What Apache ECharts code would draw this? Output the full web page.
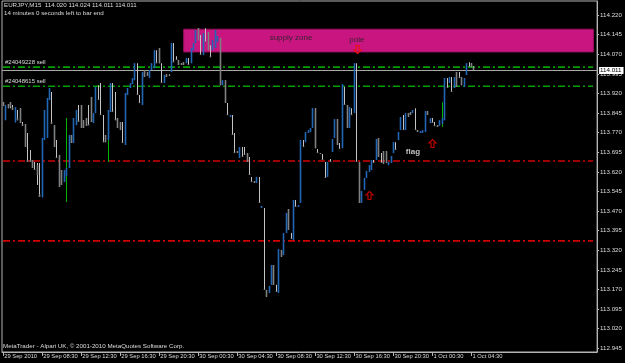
<!DOCTYPE html>
<html><head><meta charset="utf-8">
<script src="https://cdn.jsdelivr.net/npm/echarts@6/dist/echarts.min.js"></script>
<style>html,body{margin:0;padding:0;background:#000}#c{width:625px;height:363px}</style>
</head><body><div id="c"></div>
<script>
const titleLine1 = 'EURJPY,M15  114.020 114.024 114.011 114.011';
const titleLine2 = '14 minutes 0 seconds left to bar end';
const footerText = 'MetaTrader - Alpari UK, \u00a9 2001-2010 MetaQuotes Software Corp.';

const xTickLabels = ['29 Sep 2010','29 Sep 08:30','29 Sep 12:30','29 Sep 16:30','29 Sep 20:30','30 Sep 00:30','30 Sep 04:30','30 Sep 08:30','30 Sep 12:30','30 Sep 16:30','30 Sep 20:30','1 Oct 00:30','1 Oct 04:30'];
const yTicks = [112.945,113.020,113.095,113.170,113.245,113.320,113.395,113.470,113.545,113.620,113.695,113.770,113.845,113.920,113.995,114.070,114.145,114.220];

// [open, close, low, high] M15 bars, 29 Sep 04:30 onward
const bars = [
[113.887,113.872,113.872,113.887],[113.818,113.876,113.818,113.876],[113.880,113.864,113.864,113.880],[113.887,113.868,113.864,113.887],
[113.868,113.857,113.857,113.876],[113.811,113.868,113.807,113.868],[113.826,113.818,113.818,113.857],[113.864,113.807,113.807,113.864],
[113.803,113.796,113.796,113.811],[113.803,113.715,113.715,113.803],[113.666,113.658,113.658,113.769],[113.666,113.658,113.658,113.704],
[113.666,113.635,113.635,113.666],[113.631,113.627,113.627,113.658],[113.646,113.608,113.570,113.654],[113.535,113.524,113.524,113.654],
[113.524,113.750,113.520,113.750],[113.742,113.857,113.742,113.857],[113.750,113.903,113.750,113.903],[113.895,113.941,113.895,113.941],
[113.811,113.803,113.803,113.926],[113.799,113.715,113.715,113.799],[113.677,113.673,113.673,113.742],[113.685,113.562,113.562,113.685],
[113.627,113.570,113.570,113.627],[113.581,113.627,113.581,113.627],[113.604,113.635,113.604,113.635],[113.635,113.761,113.635,113.761],
[113.761,113.731,113.731,113.761],[113.731,113.826,113.731,113.826],[113.799,113.857,113.799,113.857],[113.818,113.811,113.811,113.876],
[113.876,113.788,113.788,113.876],[113.818,113.788,113.788,113.818],[113.826,113.796,113.796,113.826],[113.803,113.799,113.799,113.876],
[113.907,113.811,113.811,113.907],[113.807,113.845,113.807,113.845],[113.845,113.945,113.845,113.945],[113.899,113.895,113.895,113.952],
[113.841,113.838,113.838,113.960],[113.738,113.734,113.734,113.838],[113.761,113.734,113.734,113.761],[113.742,113.857,113.742,113.857],
[113.849,113.960,113.849,113.960],[113.853,113.849,113.849,113.960],[113.822,113.818,113.818,113.926],[113.826,113.788,113.788,113.826],
[113.811,113.780,113.780,113.811],[113.734,113.731,113.731,113.811],[113.723,113.922,113.723,113.922],[113.914,113.941,113.914,113.941],
[113.941,113.960,113.941,113.960],[113.956,113.979,113.956,113.979],[113.971,114.036,113.971,114.036],[113.918,113.914,113.914,114.036],
[113.887,113.884,113.884,113.914],[113.876,114.002,113.876,114.002],[114.010,113.983,113.983,114.010],[114.002,113.987,113.987,114.002],
[113.979,114.010,113.979,114.010],[114.010,114.036,114.010,114.036],[114.017,114.086,114.017,114.086],[114.040,114.036,114.036,114.086],
[114.094,114.036,114.036,114.094],[113.964,113.960,113.960,114.036],[113.960,113.991,113.960,113.991],[113.994,113.983,113.983,113.994],
[113.991,113.987,113.987,113.994],[114.002,114.113,114.002,114.113],[114.044,114.040,114.040,114.113],[114.052,114.048,114.048,114.063],
[114.048,114.029,114.029,114.048],[114.036,114.029,114.029,114.036],[114.040,114.029,114.029,114.040],[114.036,114.056,114.036,114.056],
[114.033,114.029,114.029,114.056],[114.036,114.094,114.036,114.094],[114.086,114.113,114.086,114.113],[114.113,114.163,114.113,114.163],
[114.170,114.124,114.124,114.170],[114.071,114.067,114.067,114.144],[114.067,114.151,114.067,114.151],[114.121,114.117,114.117,114.170],
[114.155,114.086,114.086,114.155],[114.063,114.059,114.059,114.105],[114.086,114.124,114.086,114.124],[114.094,114.163,114.094,114.163],
[114.117,114.140,114.117,114.140],[114.132,113.952,113.952,114.132],[113.952,113.971,113.952,113.971],[113.971,113.884,113.884,113.971],
[113.841,113.838,113.838,113.884],[113.830,113.838,113.830,113.838],[113.765,113.761,113.761,113.838],[113.696,113.692,113.692,113.769],
[113.700,113.692,113.692,113.700],[113.673,113.715,113.673,113.715],[113.681,113.677,113.677,113.715],[113.689,113.685,113.685,113.715],
[113.692,113.658,113.658,113.692],[113.612,113.608,113.608,113.677],[113.585,113.581,113.581,113.601],[113.585,113.578,113.578,113.585],
[113.578,113.601,113.578,113.601],[113.505,113.501,113.501,113.601],[113.482,113.490,113.482,113.490],[113.172,113.168,113.168,113.482],
[113.168,113.142,113.142,113.168],[113.157,113.184,113.157,113.184],[113.188,113.264,113.188,113.264],[113.264,113.188,113.188,113.264],
[113.165,113.161,113.161,113.188],[113.157,113.325,113.157,113.325],[113.321,113.295,113.295,113.321],[113.302,113.386,113.302,113.386],
[113.386,113.463,113.386,113.463],[113.478,113.398,113.398,113.478],[113.367,113.363,113.363,113.386],[113.360,113.513,113.360,113.513],
[113.490,113.486,113.486,113.513],[113.486,113.493,113.486,113.493],[113.501,113.742,113.501,113.742],[113.719,113.715,113.715,113.742],
[113.734,113.773,113.734,113.773],[113.769,113.780,113.769,113.780],[113.773,113.788,113.773,113.788],[113.788,113.864,113.788,113.864],
[113.864,113.711,113.711,113.864],[113.696,113.692,113.692,113.708],[113.692,113.689,113.689,113.692],[113.669,113.666,113.666,113.689],
[113.601,113.597,113.597,113.658],[113.601,113.658,113.601,113.658],[113.662,113.658,113.658,113.669],[113.696,113.746,113.696,113.746],
[113.750,113.822,113.750,113.822],[113.822,113.723,113.723,113.822],[113.711,113.708,113.708,113.731],[113.711,113.956,113.711,113.956],
[113.880,113.876,113.876,113.945],[113.876,113.788,113.788,113.876],[113.788,113.868,113.788,113.868],[113.841,113.838,113.838,113.864],
[113.845,114.036,113.845,114.036],[113.662,113.658,113.658,114.036],[113.658,113.501,113.501,113.658],[113.501,113.547,113.501,113.547],
[113.551,113.597,113.551,113.597],[113.597,113.624,113.597,113.624],[113.620,113.646,113.620,113.646],[113.627,113.666,113.627,113.666],
[113.658,113.654,113.654,113.666],[113.666,113.746,113.666,113.746],[113.750,113.677,113.677,113.750],[113.658,113.654,113.654,113.692],
[113.700,113.650,113.650,113.700],[113.700,113.654,113.654,113.700],[113.646,113.658,113.646,113.658],[113.654,113.681,113.654,113.681],
[113.692,113.734,113.692,113.734],[113.708,113.704,113.704,113.734],[113.742,113.773,113.742,113.773],[113.780,113.830,113.780,113.830],
[113.784,113.780,113.780,113.838],[113.780,113.845,113.780,113.845],[113.845,113.830,113.830,113.845],[113.849,113.838,113.838,113.849],
[113.845,113.857,113.845,113.857],[113.784,113.780,113.780,113.864],[113.780,113.773,113.773,113.780],[113.769,113.776,113.769,113.776],
[113.769,113.780,113.769,113.780],[113.773,113.853,113.773,113.853],[113.853,113.838,113.838,113.853],[113.807,113.826,113.807,113.826],
[113.811,113.807,113.807,113.826],[113.799,113.796,113.796,113.811],[113.799,113.792,113.792,113.799],[113.796,113.818,113.796,113.818],
[113.803,113.826,113.803,113.826],[113.818,113.979,113.818,113.979],[113.945,113.941,113.941,113.979],[113.960,113.983,113.960,113.983],
[113.930,113.926,113.926,113.983],[113.941,113.983,113.941,113.983],[114.002,113.945,113.945,114.002],[113.983,113.979,113.979,114.002],
[113.983,113.952,113.952,113.983],[113.945,113.979,113.945,113.979],[113.991,114.036,113.991,114.036],[114.025,114.021,114.021,114.040],
[114.036,114.021,114.021,114.036],[114.020,114.011,114.011,114.024]
];

// [bar index, high, low] green highlight spikes
const greenSpikes = [[26,113.826,113.505],[43,113.773,113.658],[180,113.887,113.792]];

// horizontal levels: price, colour kind, label
const levelPrices = [114.021, 113.948, 113.662, 113.356];
const levelKinds = ['order', 'order', 'stop', 'stop'];
const levelNames = ['#24049228 sell', '#24048615 sell', '', ''];
const bidPrice = 114.011;

// supply zone rectangle: [fromIndex, toIndex, top, bottom]
const supplyZone = [74, 242, 114.166, 114.079];

const noteIndex = [118, 145, 168];
const notePrice = [114.132, 114.126, 113.696];
const noteText = ['supply zone', 'pole', 'flag'];

const arrowIndex = [145, 150, 176];
const arrowPrice = [114.090, 113.532, 113.731];
const arrowDir = ['down', 'up', 'up'];

const totalSlots = 244;
const categories = [];
{
  const mon = ['Jan','Feb','Mar','Apr','May','Jun','Jul','Aug','Sep','Oct','Nov','Dec'];
  const t0 = Date.UTC(2010, 8, 29, 4, 30);
  for (let k = 0; k < totalSlots; k++) {
    const d = new Date(t0 + k * 900000);
    const hh = String(d.getUTCHours()).padStart(2, '0');
    const mm = String(d.getUTCMinutes()).padStart(2, '0');
    categories.push(d.getUTCDate() + ' ' + mon[d.getUTCMonth()] + ' ' + hh + ':' + mm);
  }
}

const FONT = '"Liberation Sans", Arial, sans-serif';
const txtColor = '#dcdcdc';
const frameColor = '#b4b4b4';
const tickShown = (idx) => idx % 16 === 0 && idx / 16 < xTickLabels.length;

const chart = echarts.init(document.getElementById('c'), null, {renderer: 'canvas'});

function renderBar(params, api) {
  const i = api.value(0);
  const o = api.value(1), c = api.value(2);
  const px = api.coord([i, o])[0];
  const yO = api.coord([i, o])[1];
  const yC = api.coord([i, c])[1];
  const yL = api.coord([i, api.value(3)])[1];
  const yH = api.coord([i, api.value(4)])[1];
  const up = c > o;
  const x = Math.floor(px);
  const bTop = Math.min(yO, yC), bH = Math.max(1, Math.abs(yO - yC));
  return {
    type: 'group',
    children: [
      {type: 'rect', shape: {x: x, y: yH, width: 1, height: Math.max(1, yL - yH)},
       style: {fill: up ? '#17467e' : '#c4c4c4'}},
      {type: 'rect', shape: {x: x - 0.3, y: bTop, width: 1.6, height: bH},
       style: {fill: up ? '#2266b6' : '#808080'}}
    ]
  };
}

function renderSpike(params, api) {
  const i = api.value(0);
  const pH = api.coord([i, api.value(1)]);
  const yL = api.coord([i, api.value(2)])[1];
  return {type: 'rect', shape: {x: Math.floor(pH[0]), y: pH[1], width: 1, height: yL - pH[1]},
          style: {fill: '#00b400'}};
}

function renderLevel(params, api) {
  const k = params.dataIndex;
  const cs = params.coordSys;
  const y = api.coord([0, api.value(1)])[1];
  const kids = [{type: 'line', shape: {x1: cs.x + 1, y1: y, x2: cs.x + cs.width - 4, y2: y},
    style: {stroke: levelKinds[k] === 'order' ? '#00a000' : '#d00000', lineWidth: 1.6, lineDash: [7, 3, 2, 3]}}];
  if (levelNames[k]) {
    kids.push({type: 'text', x: cs.x + 3, y: y - 2,
      style: {text: levelNames[k], fill: txtColor, font: '6px ' + FONT, verticalAlign: 'bottom'}});
  }
  return {type: 'group', children: kids};
}

function renderBid(params, api) {
  const cs = params.coordSys;
  const y = Math.round(api.coord([0, api.value(1)])[1]) + 0.5;
  return {type: 'group', children: [
    {type: 'line', shape: {x1: cs.x, y1: y, x2: cs.x + cs.width, y2: y},
     style: {stroke: '#a8a8a8', lineWidth: 1.2}},
    {type: 'text', x: cs.x + cs.width + 2, y: y,
     style: {text: api.value(1).toFixed(3), fill: '#000', backgroundColor: '#ffffff',
       padding: [1, 2, 0, 1], font: '6.2px ' + FONT, verticalAlign: 'middle'}}
  ]};
}

function renderNote(params, api) {
  const k = params.dataIndex;
  const p = api.coord([api.value(0), api.value(1)]);
  const inZone = k < 2;
  return {type: 'text', x: p[0], y: p[1],
    style: {text: noteText[k], fill: inZone ? '#3a2434' : '#c0c0c0',
      font: (inZone ? '' : 'bold ') + '8px ' + FONT, align: 'center', verticalAlign: 'middle'}};
}

function renderArrow(params, api) {
  const k = params.dataIndex;
  const p = api.coord([api.value(0), api.value(1)]);
  const s = arrowDir[k] === 'up' ? 1 : -1;
  const pts = [[0,-4],[3.5,-0.5],[1.5,-0.5],[1.5,4],[-1.5,4],[-1.5,-0.5],[-3.5,-0.5]]
    .map(q => [Math.round(p[0]) + 0.5 + q[0], Math.round(p[1]) + 0.5 + s * q[1]]);
  return {type: 'polygon', shape: {points: pts},
    style: {fill: 'none', stroke: arrowDir[k] === 'up' ? '#c00000' : '#ee1010', lineWidth: 1.2}};
}

chart.setOption({
  animation: false,
  backgroundColor: '#000000',
  grid: {left: 2, right: 23, top: 1, bottom: 11, show: true, borderColor: frameColor, borderWidth: 1},
  xAxis: {
    type: 'category', data: categories, boundaryGap: true,
    axisLine: {show: true, lineStyle: {color: frameColor}},
    axisTick: {show: true, alignWithLabel: true, interval: tickShown, length: 4, lineStyle: {color: frameColor}},
    axisLabel: {interval: tickShown, formatter: (v, idx) => xTickLabels[idx / 16] || '',
      align: 'left', margin: 1, padding: [0, 0, 0, 1], color: txtColor, fontSize: 5.8, fontFamily: FONT},
    splitLine: {show: false}
  },
  yAxis: {
    type: 'value', position: 'right', min: 112.931, max: 114.274,
    axisLine: {show: true, lineStyle: {color: frameColor}},
    axisTick: {show: true, length: 2, customValues: yTicks, lineStyle: {color: frameColor}},
    axisLabel: {customValues: yTicks, formatter: v => v.toFixed(3), margin: 3,
      color: txtColor, fontSize: 6.2, fontFamily: FONT},
    splitLine: {show: false}
  },
  graphic: [
    {type: 'text', left: 4, top: 2, style: {text: titleLine1, fill: txtColor, font: '6.2px ' + FONT}},
    {type: 'text', left: 4, top: 10, style: {text: titleLine2, fill: txtColor, font: '6.2px ' + FONT}},
    {type: 'text', left: 3, top: 343, style: {text: footerText, fill: txtColor, font: '6.2px ' + FONT}}
  ],
  series: [
    {type: 'line', name: 'zone', data: [], z: 1, silent: true,
     markArea: {silent: true, itemStyle: {color: '#c8157f', borderColor: '#9a0f60', borderWidth: 1},
       data: [[{xAxis: supplyZone[0], yAxis: supplyZone[2]}, {xAxis: supplyZone[1], yAxis: supplyZone[3]}]]}},
    {type: 'custom', name: 'levels', z: 2, data: levelPrices.map(v => [0, v]),
     renderItem: renderLevel, encode: {x: 0, y: 1}, silent: true},
    {type: 'custom', name: 'bid', z: 2, data: [[0, bidPrice]],
     renderItem: renderBid, encode: {x: 0, y: 1}, silent: true},
    {type: 'custom', name: 'notes', z: 3, data: noteIndex.map((ix, k) => [ix, notePrice[k]]),
     renderItem: renderNote, encode: {x: 0, y: 1}, silent: true},
    {type: 'custom', name: 'spikes', z: 4, data: greenSpikes, renderItem: renderSpike,
     encode: {x: 0, y: [1, 2]}, silent: true},
    {type: 'custom', name: 'EURJPY', z: 5, data: bars.map((b, i) => [i].concat(b)),
     renderItem: renderBar, encode: {x: 0, y: [1, 2, 3, 4]}, silent: true},
    {type: 'custom', name: 'arrows', z: 6, data: arrowIndex.map((ix, k) => [ix, arrowPrice[k]]),
     renderItem: renderArrow, encode: {x: 0, y: 1}, silent: true}
  ]
});
</script></body></html>
